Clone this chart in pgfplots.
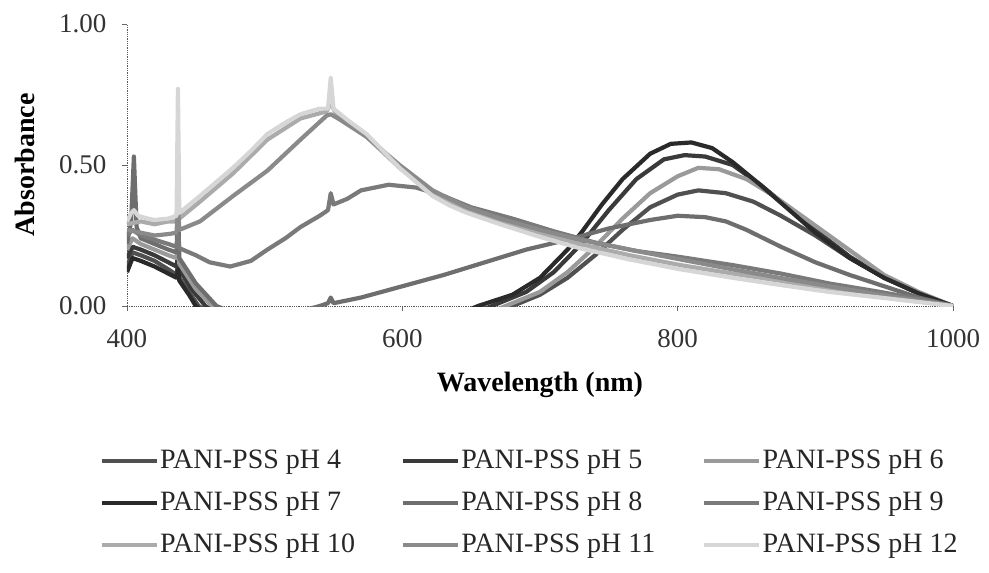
\documentclass[border=0pt]{standalone}
\usepackage{fontspec}
\setmainfont{Liberation Serif}
\usepackage{pgfplots}
\pgfplotsset{compat=1.18}

\definecolor{c4}{HTML}{505050}
\definecolor{c5}{HTML}{3A3A3A}
\definecolor{c6}{HTML}{9A9A9A}
\definecolor{c7}{HTML}{2A2A2A}
\definecolor{c8}{HTML}{6E6E6E}
\definecolor{c9}{HTML}{7A7A7A}
\definecolor{c10}{HTML}{ABABAB}
\definecolor{c11}{HTML}{8A8A8A}
\definecolor{c12}{HTML}{D6D6D6}

\newcommand{\lt}[1]{\makebox[240bp][l]{#1}}

\begin{document}
\begin{tikzpicture}
\useasboundingbox (-127bp,-267bp) rectangle (862bp,306bp);
\begin{axis}[
    scale only axis,
    width=826bp, height=282bp,
    xmin=400, xmax=1000, ymin=0, ymax=1,
    axis lines=left,
    axis line style={-, densely dotted, black!65, line width=0.8bp},
    tick align=outside,
    major tick length=5bp,
    tick style={black!60, line width=0.6bp},
    xtick={400,600,800,1000},
    xticklabels={400,600,800,1000},
    ytick={0,0.5,1},
    yticklabels={0.00,0.50,1.00},
    ticklabel style={font=\fontsize{27bp}{30bp}\selectfont, text=black!80},
    yticklabel style={xshift=-12bp},
    xticklabel style={yshift=-15bp},
    xlabel={Wavelength (nm)},
    ylabel={Absorbance},
    label style={font=\fontsize{28bp}{32bp}\selectfont\bfseries},
    xlabel style={at={(axis description cs:0.5,-0.28)}, anchor=center},
    ylabel style={at={(axis description cs:-0.1235,0.5)}, anchor=center},
    legend columns=3,
    legend cell align=left,
    legend style={at={(axis description cs:-0.033,-0.50)}, anchor=north west,
        draw=none, fill=none, inner sep=0pt, row sep=14bp, column sep=0bp,
        font=\fontsize{28bp}{30bp}\selectfont, text=black!85,
        nodes={inner sep=1bp, text height=20bp, text depth=6bp}},
    legend image code/.code={\draw[#1] (0bp,0bp) -- (55bp,0bp);},
    every axis plot/.append style={line width=4.2bp, line join=round},
]
% pH 4
\addplot[c4] coordinates {(400,0.14) (404,0.19) (410,0.18) (420,0.16) (430,0.13) (436,0.11) (437,0.15) (438,0.10) (445,0.05) (452,0.0) (465,-0.04) (650,-0.04) (680,0.0) (700,0.04) (720,0.10) (740,0.18) (760,0.27) (780,0.35) (800,0.395) (815,0.41) (835,0.40) (855,0.37) (875,0.32) (900,0.25) (925,0.17) (950,0.10) (975,0.045) (1000,0.0)};
% pH 5
\addplot[c5] coordinates {(400,0.17) (404,0.21) (410,0.20) (420,0.18) (430,0.155) (436,0.14) (437,0.18) (438,0.13) (447,0.06) (457,0.0) (470,-0.04) (645,-0.04) (665,0.0) (690,0.05) (710,0.12) (730,0.22) (750,0.34) (770,0.45) (790,0.52) (805,0.535) (820,0.53) (840,0.50) (860,0.43) (880,0.35) (900,0.27) (925,0.175) (950,0.10) (975,0.045) (1000,0.0)};
% pH 6
\addplot[c6] coordinates {(400,0.20) (404,0.24) (410,0.22) (420,0.20) (430,0.18) (436,0.17) (437,0.22) (438,0.15) (450,0.06) (462,0.0) (475,-0.04) (655,-0.04) (675,0.0) (700,0.05) (720,0.12) (740,0.21) (760,0.31) (780,0.40) (800,0.46) (815,0.49) (830,0.485) (850,0.45) (870,0.39) (890,0.32) (910,0.25) (930,0.18) (950,0.11) (975,0.05) (1000,0.0)};
% pH 7
\addplot[c7] coordinates {(400,0.12) (404,0.17) (410,0.16) (420,0.14) (430,0.115) (436,0.10) (437,0.13) (438,0.09) (445,0.04) (450,0.0) (460,-0.04) (635,-0.04) (655,0.0) (680,0.04) (700,0.10) (720,0.20) (730,0.26) (745,0.36) (760,0.45) (780,0.54) (795,0.575) (810,0.58) (825,0.56) (840,0.51) (860,0.43) (880,0.345) (900,0.26) (925,0.17) (950,0.10) (975,0.045) (1000,0.0)};
% pH 8
\addplot[c8] coordinates {(400,0.22) (403,0.30) (405,0.53) (407,0.28) (410,0.24) (420,0.22) (430,0.20) (436,0.19) (437,0.36) (438,0.17) (450,0.08) (465,0.0) (480,-0.03) (525,-0.02) (540,0.0) (546,0.01) (548,0.03) (550,0.01) (570,0.03) (600,0.07) (630,0.11) (660,0.155) (690,0.20) (720,0.235) (750,0.275) (780,0.305) (800,0.32) (820,0.315) (835,0.30) (850,0.27) (875,0.21) (900,0.155) (925,0.11) (950,0.07) (975,0.03) (1000,0.0)};
% pH 9
\addplot[c9] coordinates {(400,0.25) (404,0.27) (410,0.25) (420,0.235) (430,0.22) (436,0.21) (437,0.25) (438,0.205) (450,0.18) (460,0.155) (475,0.14) (490,0.16) (502,0.20) (515,0.24) (526,0.28) (540,0.32) (546,0.34) (548,0.40) (550,0.36) (560,0.38) (570,0.41) (590,0.43) (610,0.42) (630,0.39) (650,0.35) (680,0.31) (710,0.265) (740,0.225) (770,0.195) (800,0.175) (840,0.145) (875,0.115) (910,0.08) (947,0.05) (975,0.025) (1000,0.0)};
% pH 10
\addplot[c10] coordinates {(400,0.29) (410,0.30) (420,0.29) (430,0.30) (436,0.30) (437,0.40) (438,0.31) (453,0.37) (477,0.47) (502,0.59) (526,0.665) (545,0.69) (548,0.72) (552,0.68) (574,0.60) (598,0.49) (622,0.40) (647,0.34) (671,0.30) (700,0.26) (729,0.22) (765,0.18) (802,0.145) (840,0.115) (874,0.09) (910,0.06) (947,0.035) (1000,0.0)};
% pH 11
\addplot[c11] coordinates {(400,0.27) (410,0.26) (420,0.25) (430,0.255) (436,0.26) (437,0.36) (438,0.27) (453,0.30) (477,0.39) (502,0.48) (526,0.59) (545,0.675) (548,0.68) (555,0.66) (574,0.60) (598,0.50) (622,0.41) (647,0.35) (671,0.31) (700,0.27) (729,0.235) (765,0.20) (802,0.165) (840,0.13) (874,0.10) (910,0.07) (947,0.04) (1000,0.0)};
% pH 12
\addplot[c12] coordinates {(400,0.30) (403,0.33) (405,0.34) (408,0.32) (415,0.31) (420,0.305) (430,0.31) (436,0.32) (437,0.77) (438,0.33) (453,0.39) (465,0.44) (477,0.49) (490,0.55) (502,0.61) (515,0.65) (526,0.68) (540,0.70) (546,0.70) (548,0.81) (550,0.70) (560,0.66) (574,0.61) (586,0.55) (598,0.49) (610,0.44) (622,0.39) (635,0.355) (647,0.33) (671,0.29) (700,0.245) (729,0.205) (765,0.165) (802,0.13) (840,0.10) (874,0.075) (910,0.05) (947,0.03) (1000,0.0)};
\legend{\lt{PANI-PSS pH 4}, \lt{PANI-PSS pH 5}, PANI-PSS pH 6,
        \lt{PANI-PSS pH 7}, \lt{PANI-PSS pH 8}, PANI-PSS pH 9,
        \lt{PANI-PSS pH 10}, \lt{PANI-PSS pH 11}, PANI-PSS pH 12}
\end{axis}
\end{tikzpicture}
\end{document}
